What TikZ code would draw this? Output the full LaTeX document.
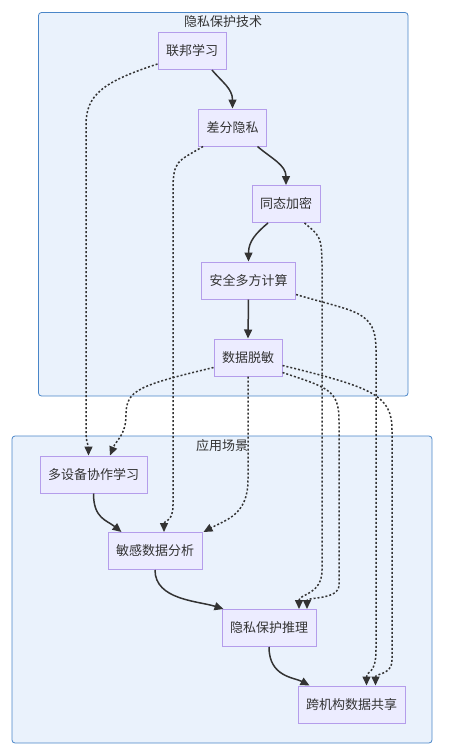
\documentclass[tikz,border=0pt]{standalone}
\usepackage{fontspec}
\newfontfamily\cjk{Noto Sans CJK SC}
\usepackage{tikz}
\usetikzlibrary{arrows.meta}
\definecolor{clfill}{HTML}{EAF2FC}
\definecolor{cldraw}{HTML}{4A86C8}
\definecolor{ndfill}{HTML}{ECECFF}
\definecolor{nddraw}{HTML}{B49DEB}
\definecolor{ink}{HTML}{333333}

\begin{document}
\begin{tikzpicture}[x=1pt, y=-1pt,
    box/.style={rectangle, draw=nddraw, fill=ndfill, line width=1pt, inner xsep=8pt, inner ysep=0pt,
                minimum height=37pt, text=ink, font=\cjk\fontsize{13}{15}\selectfont},
    cluster/.style={draw=cldraw, fill=clfill, line width=0.8pt, rounded corners=3pt},
    title/.style={text=ink, font=\cjk\fontsize{13}{15}\selectfont, inner sep=0pt},
    flow/.style={draw=ink, line width=1.5pt, -{Triangle[length=9pt,width=8pt]}},
    dep/.style={draw=ink, line width=1.5pt, dash pattern=on 2pt off 2pt, -{Triangle[length=9pt,width=8pt]}}]
            \useasboundingbox (0,0) rectangle (449,755);

            % Clusters
            \draw[cluster] (38.5,12.5) rectangle (408,396);
            \draw[cluster] (12,436) rectangle (432,743);
            \node[title] (tech) at (223,22) {隐私保护技术};
            \node[title] (app) at (222,446) {应用场景};

            % Nodes
            \node[box] (fl) at (192,51) {联邦学习};
            \node[box] (dp) at (232.5,127.5) {差分隐私};
            \node[box] (he) at (286,204) {同态加密};
            \node[box] (smc) at (248.5,280.5) {安全多方计算};
            \node[box] (dm) at (248,357.5) {数据脱敏};
            \node[box] (mdc) at (93.5,474.5) {多设备协作学习};
            \node[box] (sda) at (155,551) {敏感数据分析};
            \node[box] (ppi) at (269,628) {隐私保护推理};
            \node[box] (ids) at (351.5,704.5) {跨机构数据共享};

            % Edges
            \draw[flow] ([xshift=20pt]fl.south) .. controls +(10,12) and +(0,-20) .. (dp.north);
            \draw[flow] ([xshift=25pt]dp.south) .. controls +(14,12) and +(0,-20) .. (he.north);
            \draw[flow] ([xshift=-18pt]he.south) .. controls +(-12,10) and +(0,-20) .. (smc.north);
            \draw[flow] (smc.south) -- (dm.north);
            \draw[flow] (mdc.south) .. controls +(0,25) and +(-15,-12) .. ([xshift=14pt]sda.north west);
            \draw[flow] (sda.south) .. controls +(0,30) and +(-25,-8) .. ([xshift=2pt]ppi.north west);
            \draw[flow] (ppi.south) .. controls +(0,30) and +(-15,-8) .. ([xshift=12pt]ids.north west);

            % Dotted edges
            \draw[dep] ([yshift=6pt]fl.south west) .. controls +(-55,18) and +(0,-30) .. (86,125)
                -- (86,430) .. controls +(0,15) and +(0,-12) .. ([xshift=-5pt]mdc.north);
            \draw[dep] ([xshift=5pt]dp.south west) .. controls +(-25,15) and +(0,-30) .. (173,190)
                -- (173,505) .. controls +(0,18) and +(0,-12) .. ([xshift=9pt]sda.north);
            \draw[dep] ([xshift=-16pt]he.south east) .. controls +(14,12) and +(0,-30) .. (322,265)
                -- (322,570) .. controls +(0,25) and +(0,-15) .. ([xshift=30pt]ppi.north);
            \draw[dep] ([yshift=-14pt]smc.east) .. controls +(60,18) and +(0,-40) .. (376,350)
                -- (376,650) .. controls +(0,25) and +(0,-15) .. ([xshift=15pt]ids.north);
            \draw[dep] ([yshift=-10pt]dm.west) .. controls +(-75,18) and +(0,-25) .. (126,415)
                .. controls +(0,20) and +(6,-15) .. ([xshift=16.5pt]mdc.north);
            \draw[dep] (dm.south) -- (248,480) .. controls +(0,35) and +(22,-12) .. ([xshift=1pt]sda.north east);
            \draw[dep] ([yshift=-15pt]dm.east) .. controls +(45,15) and +(0,-30) .. (339,420)
                -- (339,585) .. controls +(0,15) and +(0,-12) .. ([xshift=38pt]ppi.north);
            \draw[dep] ([yshift=-8pt]dm.east) .. controls +(90,22) and +(0,-35) .. (392,430)
                -- (392,660) .. controls +(0,15) and +(0,-12) .. ([xshift=24pt]ids.north);
        \end{tikzpicture}
\end{document}
